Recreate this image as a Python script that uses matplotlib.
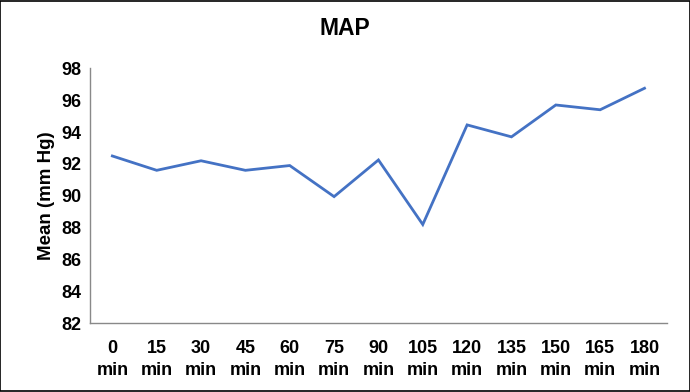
import matplotlib
matplotlib.use('Agg')
import matplotlib.pyplot as plt
from matplotlib.patches import Rectangle

# MAP readings over time
times = ['0', '15', '30', '45', '60', '75', '90', '105', '120', '135', '150', '165', '180']
map_mean = [92.5, 91.6, 92.2, 91.6, 91.9, 89.95, 92.25, 88.2, 94.45, 93.7, 95.7, 95.4, 96.75]
tick_labels = [t + '\nmin' for t in times]

plt.rcParams['font.family'] = ['Liberation Sans', 'DejaVu Sans']

fig = plt.figure(figsize=(6.9, 3.92), dpi=100)
ax = fig.add_axes([0.1307, 0.1752, 0.8355, 0.6505])

x = list(range(len(times)))
ax.plot(x, map_mean, color='#4472C4', linewidth=2.0, solid_joinstyle='miter')

ax.set_xlim(-0.5, len(times) - 0.5)
ax.set_ylim(82, 98)
ax.set_yticks(range(82, 99, 2))
ax.set_xticks(x)
ax.set_xticklabels(tick_labels, fontsize=13, fontweight='bold', linespacing=1.4)
ax.tick_params(axis='y', labelsize=13, length=0, pad=6)
ax.tick_params(axis='x', length=0, pad=12)
for lab in ax.get_yticklabels():
    lab.set_fontweight('bold')

for s in ['top', 'right']:
    ax.spines[s].set_visible(False)
for s in ['left', 'bottom']:
    ax.spines[s].set_color('#898989')
    ax.spines[s].set_linewidth(1.0)

ax.set_ylabel('Mean (mm Hg)', fontsize=13.5, fontweight='bold', labelpad=5)
fig.text(0.5, 0.927, 'MAP', ha='center', va='center', fontsize=16.5, fontweight='bold')

# thin black frame around the figure
fig.add_artist(Rectangle((0.0007, 0.0013), 0.9986, 0.9974, transform=fig.transFigure,
                         fill=False, edgecolor='black', linewidth=1.2))

plt.savefig('out.png', dpi=100)
plt.close()
